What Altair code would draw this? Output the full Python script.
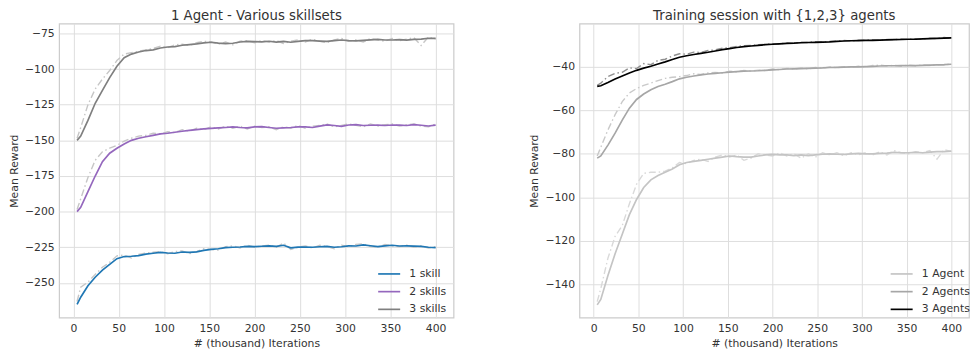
import altair as alt
import pandas as pd

# x positions (thousand iterations)
X = [4] + list(range(8, 401, 8))

# ---------- Left panel: 1 Agent - Various skillsets ----------
SKILL_NAMES = ["1 skill", "2 skills", "3 skills"]

S1_SMOOTH = [-265, -260, -252, -246, -241, -237, -233, -231.5, -231.3, -230.8, -229.8, -229.2, -228.6,
             -229, -229.2, -228.3, -228.6, -228.2, -227.2, -226.5, -226, -225.2, -225, -224.8, -224.4,
             -224.5, -224.3, -224, -224.4, -223.6, -225.4, -224.9, -224.8, -225, -224.6, -224.4, -225,
             -224.6, -224, -224.1, -223.3, -223.9, -224.5, -224, -223.6, -224.1, -224, -224.2, -224.4,
             -225, -225.2]
S1_RAW = [-263, -253, -249.5, -244, -239, -235.5, -231, -230.5, -232.5, -230, -229, -228.5, -228,
          -229.5, -228, -227.5, -229.5, -228, -226, -226.5, -227, -224.5, -224, -225.5, -223.5,
          -225, -224, -223.5, -225, -222, -226.5, -225, -224, -225.5, -223.5, -224.5, -226,
          -223.5, -224.5, -223, -222.5, -224.5, -225, -223, -224, -224.5, -223.5, -225, -224,
          -225.5, -224.5]

S2_SMOOTH = [-200, -197, -186, -175, -165, -159, -155.5, -152.5, -150, -148.5, -147.5, -146.5, -145.5,
             -145, -144.3, -143.6, -143, -142.5, -142, -141.6, -141.3, -141, -140.6, -141, -141.2,
             -140.5, -140.4, -141, -141.5, -141.3, -141, -140.5, -140.6, -141, -140, -139.2, -139.6,
             -140.2, -139.2, -139, -139.6, -139.4, -139.3, -139.6, -139.2, -139.3, -139.6, -139, -139.4,
             -139.9, -139.3]
S2_RAW = [-198.5, -191, -176, -164, -158, -155.5, -153.5, -150.5, -148.5, -147, -146.5, -145, -145.5,
          -144, -144.5, -142.5, -143.5, -141.5, -142.5, -140.5, -142, -140, -141.5, -140, -142,
          -140, -141, -140.5, -142.5, -140.5, -141.5, -139.5, -141.5, -140, -139.5, -138.5, -140.5,
          -139.5, -138.5, -139.5, -140.5, -138.5, -140, -139, -138.5, -140, -139, -138.5, -140,
          -140.5, -138.5]

S3_SMOOTH = [-150, -147, -136, -124, -115, -106, -98, -92, -89.5, -88, -87, -86.5, -85.2,
             -84.5, -84.2, -83.3, -82.8, -82.3, -81.6, -81.2, -81.8, -82.2, -81.9, -81, -80.6,
             -80.7, -80.9, -80.5, -81.1, -80.6, -81.2, -80.6, -80, -80.1, -80.4, -80.6, -80.1,
             -79.6, -80.1, -80.2, -79.9, -79.5, -79.2, -79.6, -79.6, -79.3, -79.7, -79.2, -79,
             -78.4, -78.5]
S3_RAW = [-148.5, -141, -125, -114, -107, -101, -94, -89.5, -88.5, -87.5, -86.5, -85.5, -84,
          -85, -83, -82.5, -83.5, -81.5, -80.5, -81, -82.5, -81, -83, -80.5, -80,
          -81.5, -80, -81, -80, -82, -80.5, -79.5, -81, -79, -80.5, -81.5, -79.5,
          -78.5, -80.5, -79.5, -81, -78.5, -79.5, -80.5, -78.5, -80, -79, -78, -83.5,
          -77.5, -79]

# ---------- Right panel: Training session with {1,2,3} agents ----------
AGENT_NAMES = ["1 Agent", "2 Agents", "3 Agents"]

A1_SMOOTH = [-149.5, -147, -136, -126, -117, -108, -101, -95.5, -92, -90, -88.5, -87, -85,
             -84, -83.5, -83, -82.5, -82, -81.5, -81, -81.3, -81.5, -81.5, -81, -80.5,
             -80.3, -80.5, -80.5, -80.8, -80.5, -80.8, -80.5, -80.2, -80, -80.2, -80.3, -80,
             -79.8, -80, -80, -79.8, -79.7, -79.3, -79.5, -79.5, -79.3, -79.5, -79.2, -79,
             -79, -78.8]
A1_RAW = [-148, -142, -128, -118, -113, -103, -94, -89, -88.5, -88.5, -88, -86.5, -84,
          -84.5, -83, -82.5, -83.5, -81.5, -80.5, -81.5, -80.5, -83, -82, -80, -80.5,
          -81, -79.5, -81, -80, -82, -80, -81.5, -79.5, -80.5, -79.5, -81, -79.5,
          -80.5, -79.5, -80.5, -79, -80.5, -78.5, -79.5, -80, -79, -79.5, -78.5, -82.5,
          -78, -79]

A2_SMOOTH = [-82, -81, -76, -70.5, -64.5, -59, -55, -52.5, -50.5, -49, -48, -46.8, -45.5,
             -44.8, -44.2, -43.7, -43.3, -43, -42.7, -42.4, -42.2, -42, -41.9, -41.8, -41.6,
             -41.4, -41.2, -41, -40.9, -40.8, -40.7, -40.6, -40.5, -40.3, -40.2, -40.1, -40,
             -40, -39.9, -39.8, -39.6, -39.5, -39.5, -39.4, -39.4, -39.4, -39.3, -39.2, -39.1,
             -39, -38.8]
A2_RAW = [-81, -77, -69, -62, -56, -52, -50, -48.5, -47.5, -46.3, -45.3, -44.8, -44.5,
          -44, -43.2, -43.5, -42.8, -42.6, -42.9, -42, -42.3, -41.6, -42, -41.5, -41.7,
          -41, -41.3, -40.7, -41, -40.5, -40.9, -40.3, -40.6, -40, -40.4, -39.9, -40.2,
          -39.7, -40, -39.4, -39.2, -39.6, -39.3, -39.7, -39.2, -39.5, -39.1, -39.4, -39,
          -39.2, -38.6]

A3_SMOOTH = [-49, -48.7, -47.2, -45.6, -44.2, -42.8, -41.6, -40.6, -39.7, -38.7, -37.7, -36.6, -35.6,
             -34.9, -34.3, -33.8, -33.3, -32.7, -32.1, -31.6, -31.1, -30.7, -30.4, -30.1, -29.8,
             -29.6, -29.4, -29.2, -29.1, -28.9, -28.8, -28.7, -28.6, -28.5, -28.3, -28.1, -28,
             -27.9, -27.8, -27.8, -27.7, -27.6, -27.5, -27.4, -27.3, -27.3, -27.1, -27, -26.9,
             -26.8, -26.7]
A3_RAW = [-48.5, -47.5, -44.5, -43, -42.5, -40.5, -40.8, -38.5, -39, -37, -36.5, -35, -34,
          -34.2, -33.2, -33.4, -32.5, -32.2, -31.4, -31.2, -30.6, -30.3, -30.2, -29.8, -29.7,
          -29.3, -29.4, -29, -29.1, -28.7, -28.8, -28.4, -28.6, -28.3, -28.2, -27.9, -28.1,
          -27.7, -27.8, -27.5, -27.8, -27.4, -27.5, -27.2, -27.4, -27, -27.2, -26.8, -27,
          -26.5, -26.9]

LEFT_YTICKS = [-250, -225, -200, -175, -150, -125, -100, -75]
RIGHT_YTICKS = [-140, -120, -100, -80, -60, -40]
XTICKS = [0, 50, 100, 150, 200, 250, 300, 350, 400]

FONT = "DejaVu Sans"
TXT = "#333333"


def long_df(names, smooth, raw, raw_colors):
    rows = []
    for n, s, r, rc in zip(names, smooth, raw, raw_colors):
        for xv, sv, rv in zip(X, s, r):
            rows.append({"x": xv, "series": n, "smooth": sv, "raw": rv, "rawcolor": rc})
    return pd.DataFrame(rows)


def panel(names, smooth, raw, smooth_colors, raw_colors, title, ydomain, yticks, width, lx, ly):
    df = long_df(names, smooth, raw, raw_colors)
    base = alt.Chart(df)
    xenc = alt.X("x:Q", scale=alt.Scale(domain=[-15.8, 419.8], nice=False, zero=False),
                 axis=alt.Axis(values=XTICKS, title="# (thousand) Iterations", labelPadding=5,
                               titlePadding=4, titleFontWeight="normal"))
    yaxis = alt.Axis(values=yticks, title="Mean Reward", labelPadding=5, titlePadding=5,
                     titleFontWeight="normal")
    yscale = alt.Scale(domain=ydomain, nice=False, zero=False)
    raw_layer = base.mark_line(strokeWidth=1.4, strokeDash=[7, 3, 1.5, 3]).encode(
        x=xenc,
        y=alt.Y("raw:Q", scale=yscale, axis=yaxis),
        detail="series:N",
        color=alt.Color("rawcolor:N", scale=None),
    )
    smooth_layer = base.mark_line(strokeWidth=1.7).encode(
        x=xenc,
        y=alt.Y("smooth:Q", scale=yscale, axis=yaxis),
        color=alt.Color("series:N", scale=alt.Scale(domain=names, range=smooth_colors),
                        legend=alt.Legend(orient="none", legendX=lx, legendY=ly, title=None,
                                          symbolType="stroke", symbolStrokeWidth=1.7,
                                          symbolSize=500, labelFont=FONT, labelFontSize=11,
                                          labelColor=TXT, labelOffset=8, rowPadding=-7.5,
                                          padding=0)),
    )
    return alt.layer(raw_layer, smooth_layer).resolve_scale(color="independent").properties(
        width=width, height=299,
        title=alt.TitleParams(title, font=FONT, fontSize=13.5, color=TXT, fontWeight="normal",
                              anchor="middle", frame="group", offset=1),
    )


left = panel(SKILL_NAMES, [S1_SMOOTH, S2_SMOOTH, S3_SMOOTH], [S1_RAW, S2_RAW, S3_RAW],
             ["#1f77b4", "#9467bd", "#7f7f7f"], ["#c6c6c6", "#c6c6c6", "#c6c6c6"],
             "1 Agent - Various skillsets", [-274.4, -68.1], LEFT_YTICKS, 401, 323, 242)
right = panel(AGENT_NAMES, [A1_SMOOTH, A2_SMOOTH, A3_SMOOTH], [A1_RAW, A2_RAW, A3_RAW],
              ["#c4c4c4", "#a6a6a6", "#000000"], ["#d9d9d9", "#c9c9c9", "#8f8f8f"],
              "Training session with {1,2,3} agents", [-155.4, -20.1], RIGHT_YTICKS, 396, 315, 242)

chart = alt.hconcat(left, right, spacing=75).resolve_scale(color="independent").properties(
    padding={"top": -3, "left": 0, "right": 0, "bottom": 0}, background="white"
).configure_view(stroke="#cccccc", strokeWidth=1.25).configure_axis(
    grid=True, gridColor="#dddddd", gridWidth=1, domain=False, ticks=False, tickSize=0,
    labelFont=FONT, labelFontSize=11, labelColor=TXT,
    titleFont=FONT, titleFontSize=11, titleColor=TXT, titleFontWeight="normal",
)

chart.save("out.html", embed_options={"renderer": "svg", "actions": False})
